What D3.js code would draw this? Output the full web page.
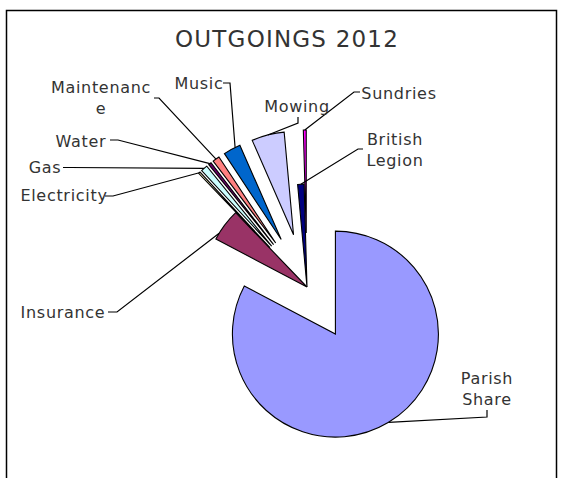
<!DOCTYPE html>
<html>
<head>
<meta charset="utf-8">
<script src="https://cdn.jsdelivr.net/npm/d3@7"></script>
<style>
  html, body { margin: 0; padding: 0; background: #fff; }
  svg text { font-family: "DejaVu Sans", Verdana, sans-serif; fill: #333; }
</style>
</head>
<body>
<svg id="chart" width="563" height="478"></svg>
<script>
// outgoings, share of total (%)
const categories = ['Parish Share', 'Insurance', 'Electricity', 'Gas', 'Water',
  'Maintenance', 'Music', 'Mowing', 'British Legion', 'Sundries'];
const values = [82.72, 5.11, 0.28, 1.05, 0.45, 1.10, 2.72, 5.12, 1.00, 0.45];
const title = 'OUTGOINGS 2012';

// Excel 2003 default pie palette
const colors = ['#9999FF', '#993366', '#FFFFCC', '#CCFFFF', '#660066',
  '#FF8080', '#0066CC', '#CCCCFF', '#000080', '#FF00FF'];
// how far each slice is pulled out (px)
const explode = [55, 0, 54, 54, 54, 54, 54, 54, 0, 54];

// label placement: text lines, anchor point, leader start + elbow, where on the arc the leader lands
const labelLayout = [
  { lines: ['Parish', 'Share'], x: 487, y: 384, from: [487, 410], elbow: [487, 417], at: 0.5 },
  { lines: ['Insurance'], x: 63, y: 318, from: [108, 312], elbow: [117, 312], at: 0.2 },
  { lines: ['Electricity'], x: 64, y: 201, from: [105, 196], elbow: [113, 196], at: 0.5 },
  { lines: ['Gas'], x: 45, y: 173, from: [63, 167.5], elbow: [70, 167.5], at: 0.5 },
  { lines: ['Water'], x: 81, y: 147, from: [110, 140], elbow: [118, 140], at: 0.5 },
  { lines: ['Maintenanc', 'e'], x: 101, y: 93, from: [154, 98], elbow: [159, 98], at: 0.5 },
  { lines: ['Music'], x: 199, y: 89, from: [223, 83], elbow: [230, 83], at: 0.7 },
  { lines: ['Mowing'], x: 297, y: 111.5, from: [298, 117], elbow: [298, 123], at: 0.5 },
  { lines: ['British', 'Legion'], x: 395, y: 145, from: [363, 149], elbow: [358, 149], at: 0.5 },
  { lines: ['Sundries'], x: 399, y: 99, from: [360, 92], elbow: [354, 92], at: 0.5 }
];

const cx = 307, cy = 287, R = 103;
const svg = d3.select('#chart');

// chart frame
svg.append('rect')
  .attr('x', 6.5).attr('y', 10.5)
  .attr('width', 550).attr('height', 500)
  .attr('fill', 'none').attr('stroke', '#000').attr('stroke-width', 1.5);

svg.append('text')
  .attr('x', 287).attr('y', 46.5)
  .attr('text-anchor', 'middle')
  .style('font-size', '23px').style('letter-spacing', '1.2px')
  .text(title);

const pie = d3.pie().sort(null).value(d => d.value);
const arcs = pie(categories.map((c, i) => ({ name: c, value: values[i], i })));
const arc = d3.arc().innerRadius(0).outerRadius(R);

// offset of a slice's apex from the pie centre
const apex = d => {
  const mid = (d.startAngle + d.endAngle) / 2;
  const e = explode[d.data.i];
  return [cx + e * Math.sin(mid), cy - e * Math.cos(mid)];
};

const g = svg.append('g');
g.selectAll('path')
  .data(arcs)
  .join('path')
  .attr('d', arc)
  .attr('transform', d => `translate(${apex(d)})`)
  .attr('fill', d => colors[d.data.i])
  .attr('stroke', '#000')
  .attr('stroke-width', 1.1)
  .attr('stroke-linejoin', 'miter');

// leader lines
svg.append('g').selectAll('polyline')
  .data(arcs)
  .join('polyline')
  .attr('points', d => {
    const L = labelLayout[d.data.i];
    const a = d.startAngle + L.at * (d.endAngle - d.startAngle);
    const [ax, ay] = apex(d);
    const end = [ax + R * Math.sin(a), ay - R * Math.cos(a)];
    return [L.from, L.elbow, end].map(p => p.join(',')).join(' ');
  })
  .attr('fill', 'none')
  .attr('stroke', '#000')
  .attr('stroke-width', 1.2);

// labels
const labels = svg.append('g').selectAll('text')
  .data(arcs)
  .join('text')
  .attr('text-anchor', 'middle')
  .style('font-size', '16px')
  .style('letter-spacing', '0.7px')
  .attr('x', d => labelLayout[d.data.i].x)
  .attr('y', d => labelLayout[d.data.i].y);

labels.selectAll('tspan')
  .data(d => labelLayout[d.data.i].lines.map(t => ({ t, x: labelLayout[d.data.i].x })))
  .join('tspan')
  .attr('x', d => d.x)
  .attr('dy', (d, i) => i ? 20.5 : 0)
  .text(d => d.t);
</script>
</body>
</html>
